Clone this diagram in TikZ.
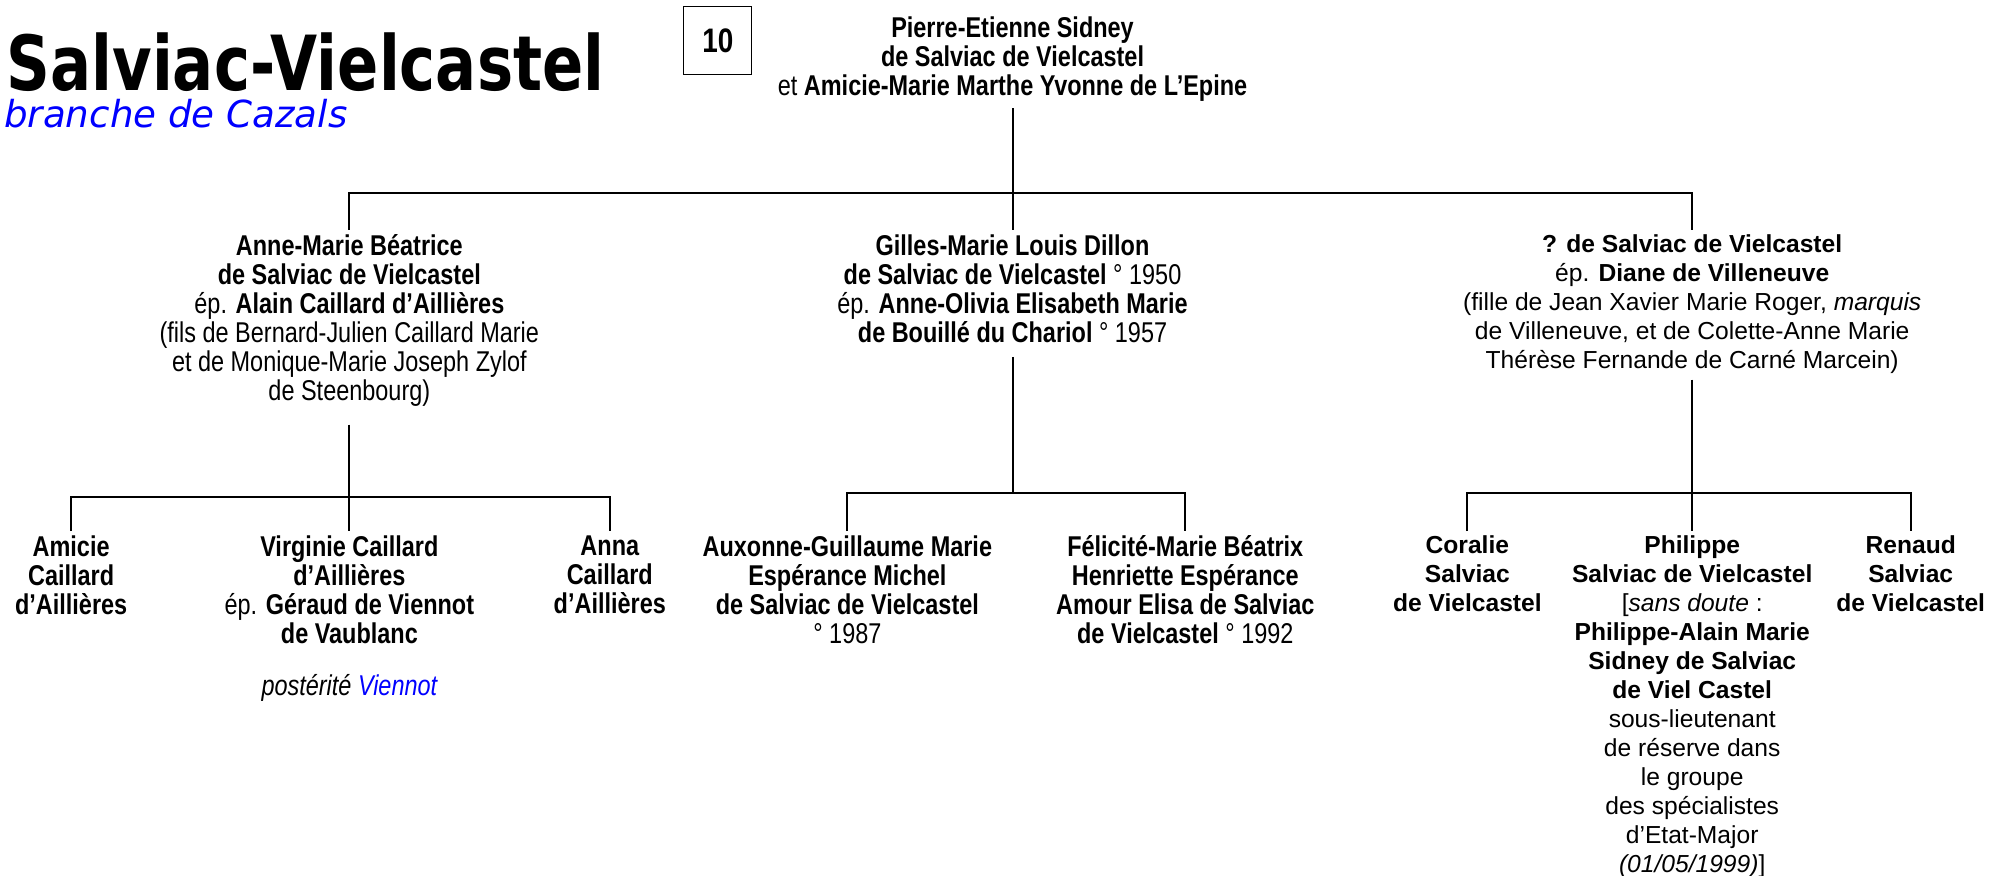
\documentclass[tikz,border=0pt]{standalone}
\usepackage{fontspec}
\setmainfont{Liberation Sans}
\newfontfamily\narrowsf[FakeStretch=0.82]{Liberation Sans}
\newfontfamily\titlesf[FakeStretch=0.8]{DejaVu Sans}
\newfontfamily\subtitlefont{DejaVu Sans}
\usetikzlibrary{positioning}

\definecolor{linkblue}{RGB}{0,0,255}

\tikzset{
	person/.style={align=center, inner sep=2pt, anchor=north,
		font=\narrowsf\fontsize{14.3}{14.5}\selectfont},
	personwide/.style={person, font=\fontsize{12.3}{14.5}\selectfont},
	link/.style={line width=1pt},
}

\begin{document}
\begin{tikzpicture}[x=0.635pt, y=-0.635pt]
	 \useasboundingbox (0,0) rectangle (1568,689);

	 % titre
	 \node (title) [anchor=base west, inner sep=0,
		font=\titlesf\bfseries\fontsize{38}{38}\selectfont] at (5,71) {Salviac-Vielcastel};
	 \node (branche) [anchor=base west, inner sep=0, text=linkblue,
		font=\subtitlefont\itshape\fontsize{18.6}{18.6}\selectfont] at (3,100) {branche de Cazals};
	 \node (num) [draw, line width=0.6pt, minimum width=34pt, minimum height=34pt,
		font=\narrowsf\bfseries\fontsize{17}{17}\selectfont] at (565,32) {10};

	 % parents
	 \node (root) [person] at (797,10) {\textbf{Pierre-Etienne Sidney}\\
		\textbf{de Salviac de Vielcastel}\\
		et \textbf{Amicie-Marie Marthe Yvonne de L’Epine}};

	 % enfants
	 \node (annemarie) [person] at (275,181) {\textbf{Anne-Marie Béatrice}\\
		\textbf{de Salviac de Vielcastel}\\
		ép. \textbf{Alain Caillard d’Aillières}\\
		(fils de Bernard-Julien Caillard Marie\\
		et de Monique-Marie Joseph Zylof\\
		de Steenbourg)};
	 \node (gilles) [person] at (797,181) {\textbf{Gilles-Marie Louis Dillon}\\
		\textbf{de Salviac de Vielcastel} ° 1950\\
		ép. \textbf{Anne-Olivia Elisabeth Marie}\\
		\textbf{de Bouillé du Chariol} ° 1957};
	 \node (tiers) [personwide] at (1332,181) {\textbf{? de Salviac de Vielcastel}\\
		ép. \textbf{Diane de Villeneuve}\\
		(fille de Jean Xavier Marie Roger, \textit{marquis}\\
		de Villeneuve, et de Colette-Anne Marie\\
		Thérèse Fernande de Carné Marcein)};

	 % petits-enfants Caillard
	 \node (amicie) [person, font=\narrowsf\bfseries\fontsize{14.3}{14.5}\selectfont]
		at (56,418) {Amicie\\Caillard\\d’Aillières};
	 \node (virginie) [person] at (275,418) {\textbf{Virginie Caillard}\\
		\textbf{d’Aillières}\\
		ép. \textbf{Géraud de Viennot}\\
		\textbf{de Vaublanc}};
	 \node (posterite) [below=11pt of virginie, inner sep=2pt,
		font=\narrowsf\itshape\fontsize{14.3}{14.5}\selectfont]
		{postérité \textcolor{linkblue}{Viennot}};
	 \node (anna) [person, font=\narrowsf\bfseries\fontsize{14.3}{14.5}\selectfont]
		at (480,418) {Anna\\Caillard\\d’Aillières};

	 % petits-enfants Gilles
	 \node (auxonne) [person] at (667,418) {\textbf{Auxonne-Guillaume Marie}\\
		\textbf{Espérance Michel}\\
		\textbf{de Salviac de Vielcastel}\\
		° 1987};
	 \node (felicite) [person] at (933,418) {\textbf{Félicité-Marie Béatrix}\\
		\textbf{Henriette Espérance}\\
		\textbf{Amour Elisa de Salviac}\\
		\textbf{de Vielcastel} ° 1992};

	 % petits-enfants ?
	 \node (coralie) [personwide, font=\bfseries\fontsize{12.3}{14.5}\selectfont]
		at (1155,418) {Coralie\\Salviac\\de Vielcastel};
	 \node (philippe) [personwide] at (1332,418) {\textbf{Philippe}\\
		\textbf{Salviac de Vielcastel}\\
		{[}\textit{sans doute} :\\
		\textbf{Philippe-Alain Marie}\\
		\textbf{Sidney de Salviac}\\
		\textbf{de Viel Castel}\\
		sous-lieutenant\\
		de réserve dans\\
		le groupe\\
		des spécialistes\\
		d’Etat-Major\\
		\textit{(01/05/1999)}]};
	 \node (renaud) [personwide, font=\bfseries\fontsize{12.3}{14.5}\selectfont]
		at (1504,418) {Renaud\\Salviac\\de Vielcastel};

	 % liens
	 \coordinate (bus)  at (797,152);
	 \coordinate (lbus) at (275,391);
	 \coordinate (mbus) at (797,388);
	 \coordinate (rbus) at (1332,388);

	 \draw[link, shorten <=1pt] (root.south) -- (gilles.north);
	 \draw[link] (annemarie.north) |- (bus) -| (tiers.north);

	 \draw[link, shorten <=7pt] (annemarie.south) -- (virginie.north);
	 \draw[link] (amicie.north) |- (lbus) -| (anna.north);

	 \draw[link, shorten <=5pt] (gilles.south) -- (mbus);
	 \draw[link] (auxonne.north) |- (mbus) -| (felicite.north);

	 \draw[link, shorten <=1pt] (tiers.south) -- (philippe.north);
	 \draw[link] (coralie.north) |- (rbus) -| (renaud.north);
	\end{tikzpicture}
\end{document}
